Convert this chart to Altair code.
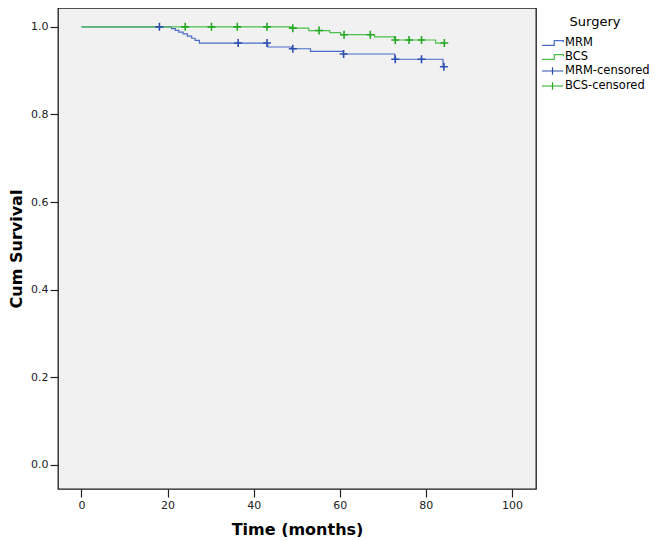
import altair as alt
import pandas as pd

# ---- data (Kaplan-Meier curves) ----
mrm_event_time = [20.9, 21.8, 22.6, 23.6, 24.6, 25.6, 26.4, 27.4, 43.3, 48.8, 53.2, 60.8, 72.8, 84.0]
mrm_event_surv = [0.996, 0.992, 0.988, 0.984, 0.979, 0.974, 0.969, 0.963, 0.954, 0.950, 0.944, 0.938, 0.926, 0.909]
mrm_end_time = 84.2
mrm_censor_time = [18.1, 36.4, 43.1, 49.1, 60.9, 72.9, 79.0, 84.2]
mrm_censor_surv = [1.0, 0.963, 0.963, 0.950, 0.938, 0.926, 0.926, 0.909]

bcs_event_time = [48.8, 52.8, 57.7, 60.2, 68.1, 72.7, 82.3]
bcs_event_surv = [0.997, 0.9915, 0.987, 0.982, 0.977, 0.970, 0.963]
bcs_end_time = 84.3
bcs_censor_time = [24.1, 30.2, 36.2, 43.1, 49.1, 55.2, 61.0, 67.1, 72.9, 76.1, 79.0, 84.3]
bcs_censor_surv = [1.0, 1.0, 1.0, 1.0, 0.997, 0.9915, 0.982, 0.982, 0.970, 0.970, 0.970, 0.963]

series_names = ["MRM", "BCS", "MRM-censored", "BCS-censored"]
x_ticks = [0, 20, 40, 60, 80, 100]
y_ticks = [0.0, 0.2, 0.4, 0.6, 0.8, 1.0]


def curve(name, ev_t, ev_s, end_t):
    t = [0.0] + ev_t + [end_t]
    s = [1.0] + ev_s + [ev_s[-1]]
    return pd.DataFrame({"time": t, "surv": s, "series": name})


line_df = pd.concat([
    curve("MRM", mrm_event_time, mrm_event_surv, mrm_end_time),
    curve("BCS", bcs_event_time, bcs_event_surv, bcs_end_time),
], ignore_index=True)

censor_df = pd.concat([
    pd.DataFrame({"time": mrm_censor_time, "surv": mrm_censor_surv, "series": "MRM-censored"}),
    pd.DataFrame({"time": bcs_censor_time, "surv": bcs_censor_surv, "series": "BCS-censored"}),
], ignore_index=True)

# ---- styles ----
color_scale = alt.Scale(domain=series_names,
                        range=["#4A6CC8", "#4CC04C", "#2F4FB0", "#25A825"])
step_icon = "M-1,0.35L0.75,0.35L0.75,-0.35L2.05,-0.35L2.05,-0.1"
wide_cross = "M-1,0L2.05,0M0.5,-0.55L0.5,0.55"
plot_cross = "M-1,0L1,0M0,-1L0,1"
shape_scale = alt.Scale(domain=series_names,
                        range=[step_icon, step_icon, wide_cross, wide_cross])

x_enc = alt.X("time:Q",
              scale=alt.Scale(domain=[-5.46, 105.6], nice=False, zero=False),
              axis=alt.Axis(title="Time (months)", values=x_ticks, format="d",
                            labelPadding=2, titlePadding=11))
y_enc = alt.Y("surv:Q",
              scale=alt.Scale(domain=[-0.055, 1.043], nice=False, zero=False),
              axis=alt.Axis(title="Cum Survival", values=y_ticks, format=".1f",
                            labelPadding=2, titlePadding=6))

legend = alt.Legend(title="Surgery", orient="none", legendX=483, legendY=8, padding=0,
                    symbolSize=196, rowPadding=0, labelOffset=8, titlePadding=6,
                    labelFont="DejaVu Sans", labelFontSize=11.5, labelColor="black",
                    titleFont="DejaVu Sans", titleFontSize=13, titleFontWeight="normal",
                    titleColor="black", titleAnchor="middle", symbolStrokeWidth=1.2,
                    symbolFillColor="transparent")

legend_layer = alt.Chart(censor_df).transform_filter("false").mark_point(
    filled=False, strokeWidth=1.2, opacity=1).encode(
    x=x_enc, y=y_enc,
    color=alt.Color("series:N", scale=color_scale, legend=legend),
    shape=alt.Shape("series:N", scale=shape_scale, legend=legend),
)

lines = alt.Chart(line_df).mark_line(interpolate="step-after", strokeWidth=1.2).encode(
    x=x_enc, y=y_enc,
    color=alt.Color("series:N", scale=color_scale),
)

censors = alt.Chart(censor_df).mark_point(shape=plot_cross, size=64, filled=False,
                                          strokeWidth=1.6, opacity=1).encode(
    x=x_enc, y=y_enc,
    color=alt.Color("series:N", scale=color_scale),
)

chart = alt.layer(legend_layer, lines, censors).properties(
    width=478, height=481,
    padding={"left": 0, "top": 0, "right": 0, "bottom": 0},
    background="white",
).configure_view(
    fill="#F1F1F1", stroke="#1a1a1a", strokeWidth=1.3
).configure_axis(
    labelFont="DejaVu Sans", labelFontSize=11, labelColor="#222222",
    titleFont="DejaVu Sans", titleFontSize=16, titleFontWeight="bold", titleColor="black",
    tickColor="#222222", tickWidth=1.2, tickSize=8, domain=False, grid=False,
)

chart.save("out.html", embed_options={"renderer": "svg", "actions": False})
